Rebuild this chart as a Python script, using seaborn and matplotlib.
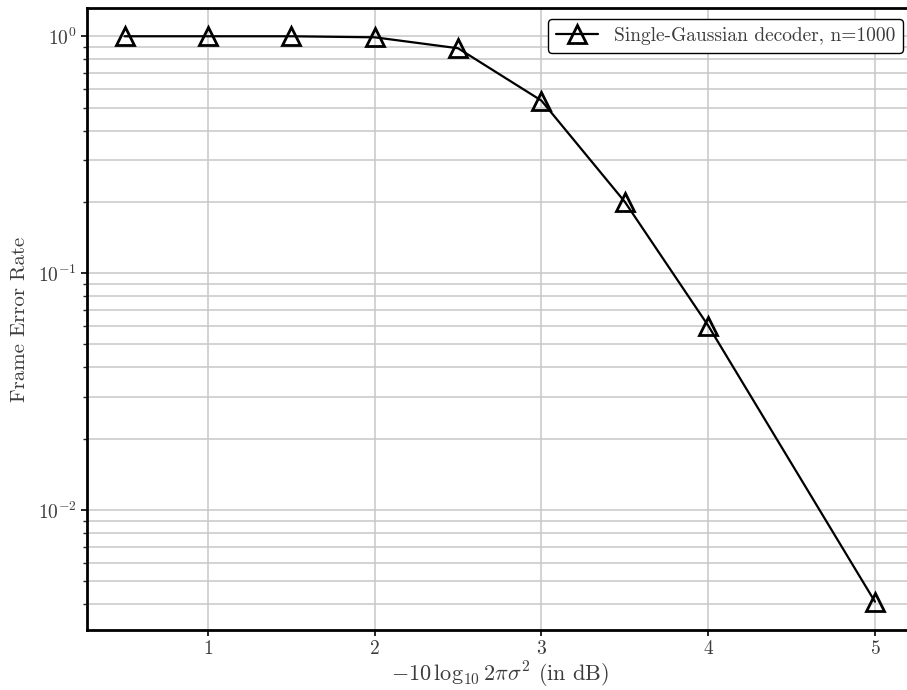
import numpy as np
import pandas as pd
import seaborn as sns
import matplotlib.pyplot as plt

# data
snr_db = [0.5, 1.0, 1.5, 2.0, 2.5, 3.0, 3.5, 4.0, 5.0]
fer = [1.0, 1.0, 1.0, 0.99, 0.89, 0.535, 0.2, 0.06, 0.0041]
series_label = 'Single-Gaussian decoder, n=1000'

df = pd.DataFrame({'snr': snr_db, 'fer': fer})

sns.set_style('white')
plt.rcParams['font.family'] = 'serif'
plt.rcParams['font.serif'] = ['cmr10', 'DejaVu Serif']
plt.rcParams['mathtext.fontset'] = 'cm'
plt.rcParams['axes.formatter.use_mathtext'] = True
plt.rcParams['axes.unicode_minus'] = False
txt_col = '#3c3c3c'

fig = plt.figure(figsize=(9.07, 6.9), dpi=100)
ax = fig.add_axes([87 / 907, 1 - 630 / 690, 825.5 / 907, 622 / 690])

sns.lineplot(data=df, x='snr', y='fer', ax=ax, color='black', lw=1.6,
             marker='^', markersize=13, markerfacecolor='none',
             markeredgecolor='black', markeredgewidth=2, label=series_label)

ax.set_yscale('log')
ax.grid(True, which='major', color='#c8c8c8', lw=1.1)
ax.grid(True, which='minor', axis='y', color='#c8c8c8', lw=1.1)
ax.set_axisbelow(True)

for s in ax.spines.values():
    s.set_color('black')
    s.set_linewidth(2)

ax.tick_params(axis='both', which='major', labelsize=14, length=4, width=1.2,
               direction='out', left=True, bottom=True, colors='black',
               labelcolor=txt_col)
ax.tick_params(axis='y', which='minor', length=3, width=1, left=True)
ax.set_xticks([1, 2, 3, 4, 5])

ax.set_xlabel(r'$-10\,\log_{10} 2\pi\sigma^2$ (in dB)', fontsize=16,
              labelpad=1, color=txt_col)
ax.set_ylabel('Frame Error Rate', fontsize=15, labelpad=6, color=txt_col)

# legend sits ~11px below the top spine, ~9px in from the right edge
leg = ax.legend(loc='upper right', fontsize=14, frameon=True, fancybox=True,
                handlelength=2.2, borderpad=0.4, borderaxespad=0,
                bbox_to_anchor=(0.9885, 0.982))
leg.get_frame().set_edgecolor('black')
leg.get_frame().set_linewidth(1)
leg.get_frame().set_alpha(1)
for t in leg.get_texts():
    t.set_color(txt_col)

fig.savefig('out.png', dpi=100)
